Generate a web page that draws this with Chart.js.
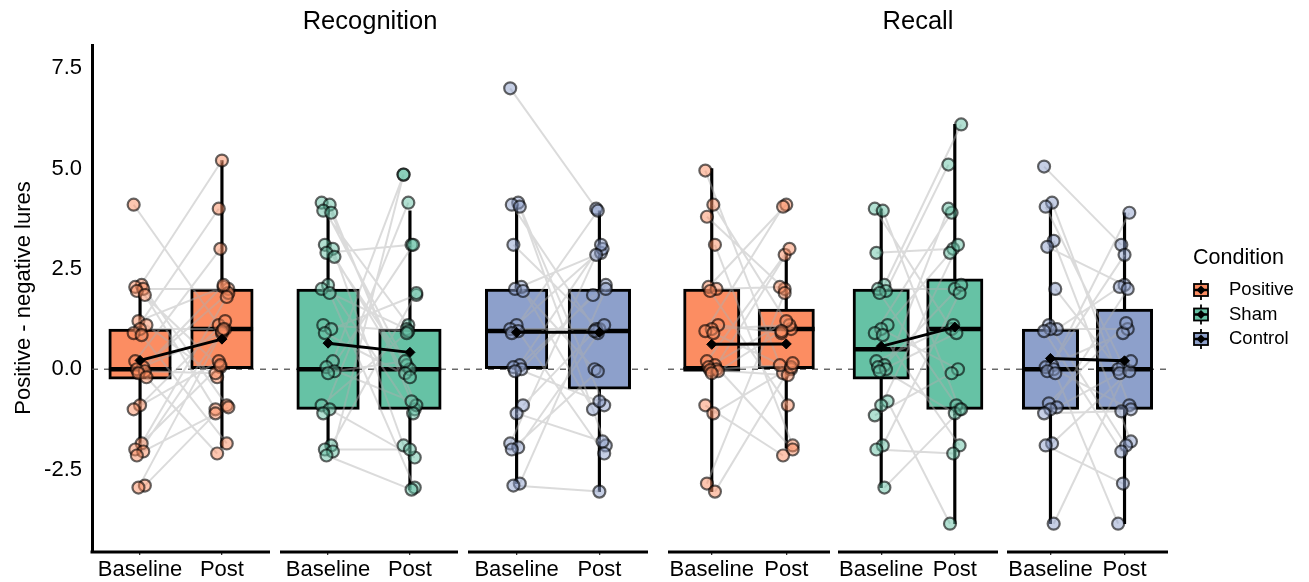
<!DOCTYPE html>
<html lang="en">
<head>
<meta charset="UTF-8" />
<title>Positive - negative lures</title>
<style>
  body { margin: 0; background: #fff; }
  #chartBox { width: 1309px; height: 582px; }
</style>
</head>
<body>
<div id="chartBox"><canvas id="boxChart" width="1309" height="582"></canvas></div>

<script src="https://cdn.jsdelivr.net/npm/chart.js@4/dist/chart.umd.min.js"></script>
<script>
// ---- values ----
const tasks = ['Recognition', 'Recall'];
const conditions = ['Positive', 'Sham', 'Control'];
const sessions = ['Baseline', 'Post'];
const yTicks = [-2.5, 0, 2.5, 5, 7.5];

// participant scores, base[i] is paired with post[i]
const recogPosBase = [4.1, 2.1, 2.05, 2.0, 1.95, 1.85, 1.2, 1.1, 1.0, 0.9, 0.85, 0.2, 0.05, 0.0, -0.05, -0.1, -0.2, -0.9, -1.0, -1.85, -2.0, -2.05, -2.15, -2.9, -2.95];
const recogPosPost = [1.1, -0.9, 0.05, 2.0, 5.2, -1.0, 2.05, -0.2, 1.0, 4.0, -1.85, 3.0, 1.9, 0.9, -0.1, 2.1, -2.1, 1.2, 0.2, 1.8, 0.1, -0.95, 0.95, -1.1, 1.0];
const recogShamBase = [4.15, 4.1, 3.95, 3.9, 3.1, 3.0, 2.9, 2.8, 2.1, 2.0, 1.9, 1.1, 1.0, 0.9, 0.2, 0.05, -0.05, -0.1, -0.9, -1.0, -1.1, -1.9, -2.0, -2.05, -2.15];
const recogShamPost = [0.1, -1.0, 1.1, -0.9, 0.0, -1.9, 3.1, -0.1, -1.1, 1.0, -2.95, 0.95, 1.85, -0.2, 4.85, -0.8, 0.2, 3.1, 0.9, -2.2, 4.15, 1.9, -2.0, 4.85, -3.0];
const recogCtrlBase = [7.0, 4.15, 4.1, 4.05, 3.1, 2.05, 2.0, 1.95, 1.1, 1.0, 0.95, 0.9, 0.1, 0.05, 0.0, -0.05, -0.9, -1.1, -1.85, -1.95, -2.0, -2.85, -2.9];
const recogCtrlPost = [4.0, -0.9, 0.9, -1.9, 1.0, -1.0, 2.9, 0.0, 3.0, 1.0, -2.1, 3.95, 2.1, -0.8, 1.85, 3.1, 0.95, -1.8, 2.85, 1.1, -0.05, 2.0, -3.05];
const recallPosBase = [4.95, 4.1, 3.8, 3.1, 2.05, 2.0, 1.95, 1.1, 1.0, 0.95, 0.9, 0.2, 0.1, 0.05, 0.0, -0.02, -0.05, -0.1, -0.9, -1.1, -2.85, -3.05];
const recallPosPost = [-0.1, 1.0, 2.0, -1.9, 4.1, 2.05, -0.9, 0.9, 1.1, 4.05, 0.0, 2.85, -2.0, 1.2, 0.1, -0.15, 0.95, 3.0, -2.15, 0.05, 1.9, 0.15];
const recallShamBase = [4.0, 3.95, 2.9, 2.1, 2.0, 1.95, 1.9, 1.1, 1.0, 0.9, 0.85, 0.2, 0.1, 0.05, 0.0, -0.05, -0.8, -0.9, -1.15, -1.9, -2.0, -2.95];
const recallShamPost = [1.0, -1.0, 3.0, 6.1, 2.0, 5.1, -0.9, 2.9, 0.0, 3.9, -1.9, 1.1, 2.1, -1.1, 4.0, 0.9, -3.85, 3.1, -0.1, 1.9, -2.1, -1.0];
const recallCtrlBase = [5.05, 4.15, 4.05, 3.2, 3.05, 2.0, 1.1, 1.0, 1.0, 0.95, 0.1, 0.05, 0.0, -0.05, -0.1, -0.85, -0.95, -1.0, -1.1, -1.85, -1.9, -3.85];
const recallCtrlPost = [3.1, -0.9, 0.1, -1.8, 2.1, 0.0, -1.9, 2.05, 1.0, -2.05, 3.9, 0.9, -1.0, 2.85, -3.85, 1.15, -0.1, 2.0, -1.05, -0.05, -2.85, 0.2];

// box summaries, panel order (Recognition P/S/C, Recall P/S/C), Baseline then Post
const boxLow    = [-2.0, -1.95, -2.0, -3.0, -2.85, -3.05, -3.05, -1.97, -2.95, -3.85, -3.85, -3.85];
const boxQ1     = [-0.25, 0, -1, -1, 0, -0.5, 0, 0, -0.25, -1, -1, -1];
const boxMedian = [0, 1, 0, 0, 0.95, 0.95, 0, 1, 0.5, 1, 0, 0];
const boxQ3     = [1, 2, 2, 1, 2, 2, 2, 1.5, 2, 2.25, 1, 1.5];
const boxHigh   = [2.1, 5.2, 4.05, 3.95, 4.1, 3.95, 5.0, 2.9, 4.0, 6.1, 4.05, 3.9];
const groupMean = [0.22, 0.75, 0.65, 0.42, 0.92, 0.92, 0.62, 0.63, 0.57, 1.05, 0.27, 0.21];

const groups = [
  { task: 0, cond: 'Positive', base: recogPosBase, post: recogPosPost },
  { task: 0, cond: 'Sham', base: recogShamBase, post: recogShamPost },
  { task: 0, cond: 'Control', base: recogCtrlBase, post: recogCtrlPost },
  { task: 1, cond: 'Positive', base: recallPosBase, post: recallPosPost },
  { task: 1, cond: 'Sham', base: recallShamBase, post: recallShamPost },
  { task: 1, cond: 'Control', base: recallCtrlBase, post: recallCtrlPost },
];

// ---- layout / style ----
const condColors = { Positive: '#FC8D62', Sham: '#66C2A5', Control: '#8DA0CB' };
const FONT = '"Liberation Sans", Arial, sans-serif';
// sub-panel extents along the x scale (1 unit = 1 px of plot width)
const panelStart = [0, 188, 376, 576, 746, 915];
const panelWidth = [178, 178, 180, 162, 160, 161];
const X_MAX = 1076;
const SESSION_POS = [0.27, 0.73];
const BOX_FRAC = 0.35;

Chart.defaults.font.family = FONT;

function xAt(g, s) { return panelStart[g] + panelWidth[g] * SESSION_POS[s]; }
function jitter(i) { return ((i * 5) % 9 - 4) * 1.6; }
function rgba(hex, a) {
  const n = parseInt(hex.slice(1), 16);
  return 'rgba(' + (n >> 16) + ',' + ((n >> 8) & 255) + ',' + (n & 255) + ',' + a + ')';
}

const whiskerData = [], medianData = [], meanData = [], pairData = [], tickPos = [];
const boxData = [[], []], boxColors = [[], []], boxWidth = [[], []];
groups.forEach((grp, g) => {
  [0, 1].forEach(s => {
    const k = g * 2 + s, x = xAt(g, s), hw = panelWidth[g] * BOX_FRAC / 2;
    tickPos.push(x);
    whiskerData.push({ x: x, y: [boxLow[k], boxHigh[k]] });
    boxData[grp.task].push({ x: x, y: [boxQ1[k], boxQ3[k]] });
    boxColors[grp.task].push(condColors[grp.cond]);
    boxWidth[grp.task].push(hw * 2);
    medianData.push({ x: x - hw, y: boxMedian[k] }, { x: x + hw, y: boxMedian[k] }, { x: x + hw, y: null });
    meanData.push({ x: x, y: groupMean[k] });
  });
  meanData.push({ x: xAt(g, 1), y: null });
  grp.base.forEach((b, i) => {
    pairData.push({ x: xAt(g, 0) + jitter(i), y: b },
                  { x: xAt(g, 1) + jitter(i + 4), y: grp.post[i] },
                  { x: xAt(g, 1), y: null });
  });
});
const avg = a => a.reduce((p, c) => p + c, 0) / a.length;

const pointSets = groups.map((grp, g) => ({
  type: 'scatter',
  data: grp.base.map((v, i) => ({ x: xAt(g, 0) + jitter(i), y: v }))
    .concat(grp.post.map((v, i) => ({ x: xAt(g, 1) + jitter(i + 4), y: v }))),
  backgroundColor: rgba(condColors[grp.cond], 0.5),
  borderColor: 'rgba(0,0,0,0.6)',
  borderWidth: 2.2,
  pointRadius: 6,
  pointHoverRadius: 6,
  order: 5
}));

const facets = [[panelStart[0], panelStart[2] + panelWidth[2]], [panelStart[3], panelStart[5] + panelWidth[5]]];

const decorations = {
  id: 'decorations',
  beforeDatasetsDraw(chart) {
    const { ctx, scales: { x, y } } = chart;
    const y0 = y.getPixelForValue(0);
    ctx.save();
    ctx.strokeStyle = '#555';
    ctx.lineWidth = 1.3;
    ctx.setLineDash([6, 6]);
    facets.forEach(f => {
      ctx.beginPath();
      ctx.moveTo(x.getPixelForValue(f[0]), y0);
      ctx.lineTo(x.getPixelForValue(f[1]), y0);
      ctx.stroke();
    });
    ctx.restore();
  },
  afterDatasetsDraw(chart) {
    const { ctx, chartArea, scales: { x } } = chart;
    ctx.save();
    ctx.strokeStyle = '#000';
    ctx.lineWidth = 3;
    panelStart.forEach((p, g) => {
      const a = x.getPixelForValue(p) - (g === 0 ? 1.5 : 0);
      ctx.beginPath();
      ctx.moveTo(a, chartArea.bottom + 1);
      ctx.lineTo(x.getPixelForValue(p + panelWidth[g]), chartArea.bottom + 1);
      ctx.stroke();
    });
    ctx.restore();
  },
  afterDraw(chart) {
    const { ctx, chartArea, scales: { x } } = chart;
    ctx.save();
    ctx.fillStyle = '#000';
    ctx.textBaseline = 'middle';
    // facet strips
    ctx.textAlign = 'center';
    ctx.font = '25.5px ' + FONT;
    facets.forEach((f, t) => {
      ctx.fillText(tasks[t], x.getPixelForValue((f[0] + f[1]) / 2), 22);
    });
    // legend
    const mid = (chartArea.top + chartArea.bottom) / 2;
    const lx = chartArea.right + 25;
    ctx.textAlign = 'left';
    ctx.font = '21.5px ' + FONT;
    ctx.fillText('Condition', lx, mid - 40);
    conditions.forEach((c, i) => {
      const cy = mid - 8 + i * 24.5, cx = lx + 8;
      ctx.strokeStyle = '#000';
      ctx.lineWidth = 1.8;
      ctx.beginPath(); ctx.moveTo(cx, cy - 10); ctx.lineTo(cx, cy + 10); ctx.stroke();
      ctx.fillStyle = condColors[c];
      ctx.fillRect(cx - 7, cy - 6, 14, 12);
      ctx.strokeRect(cx - 7, cy - 6, 14, 12);
      ctx.lineWidth = 2.5;
      ctx.beginPath(); ctx.moveTo(cx - 7, cy); ctx.lineTo(cx + 7, cy); ctx.stroke();
      ctx.fillStyle = '#000';
      ctx.beginPath();
      ctx.moveTo(cx, cy - 4.5); ctx.lineTo(cx + 4.5, cy); ctx.lineTo(cx, cy + 4.5); ctx.lineTo(cx - 4.5, cy);
      ctx.closePath(); ctx.fill();
      ctx.font = '18.5px ' + FONT;
      ctx.fillText(c, lx + 36, cy);
    });
    ctx.restore();
  }
};

new Chart(document.getElementById('boxChart'), {
  type: 'bar',
  data: {
    datasets: [
      { type: 'bar', data: whiskerData, backgroundColor: '#000', barThickness: 2.5, grouped: false, order: 10 },
      { type: 'bar', data: boxData[0], backgroundColor: boxColors[0], borderColor: '#000', borderWidth: 3,
        borderSkipped: false, barThickness: avg(boxWidth[0]), grouped: false, order: 9 },
      { type: 'bar', data: boxData[1], backgroundColor: boxColors[1], borderColor: '#000', borderWidth: 3,
        borderSkipped: false, barThickness: avg(boxWidth[1]), grouped: false, order: 9 },
      { type: 'line', data: medianData, borderColor: '#000', borderWidth: 4.5, pointRadius: 0,
        spanGaps: false, tension: 0, order: 8 },
      { type: 'line', data: pairData, borderColor: 'rgba(175,175,175,0.45)', borderWidth: 2, pointRadius: 0,
        spanGaps: false, tension: 0, order: 7 },
      ...pointSets,
      { type: 'line', data: meanData, borderColor: '#000', backgroundColor: '#000', borderWidth: 3,
        pointStyle: 'rectRot', pointRadius: 5, pointBorderWidth: 1, spanGaps: false, tension: 0, order: 1 }
    ]
  },
  options: {
    responsive: false,
    animation: false,
    events: [],
    layout: { padding: { top: 45, right: 141, bottom: 0, left: 0 } },
    plugins: { legend: { display: false }, tooltip: { enabled: false } },
    scales: {
      x: {
        type: 'linear',
        min: 0,
        max: X_MAX,
        offset: false,
        grid: { offset: false, drawOnChartArea: false, drawTicks: true, tickLength: 4, color: '#333', lineWidth: 1.3 },
        border: { display: false },
        afterBuildTicks: s => { s.ticks = tickPos.map(v => ({ value: v })); },
        afterFit: s => { s.height = 31; },
        ticks: {
          autoSkip: false,
          maxRotation: 0,
          minRotation: 0,
          padding: 2,
          color: '#000',
          font: { size: 22 },
          callback: (v, i) => sessions[i % 2]
        }
      },
      y: {
        min: -4.53,
        max: 8.08,
        grid: { display: true, drawOnChartArea: false, drawTicks: false },
        border: { display: true, color: '#000', width: 3 },
        afterBuildTicks: s => { s.ticks = yTicks.map(v => ({ value: v })); },
        afterFit: s => { s.width = 92; },
        ticks: {
          padding: 10,
          color: '#000',
          font: { size: 22 },
          callback: v => v.toFixed(1)
        },
        title: {
          display: true,
          text: 'Positive - negative lures',
          color: '#000',
          font: { size: 22 },
          padding: { top: 11, bottom: 0 }
        }
      }
    }
  },
  plugins: [decorations]
});
</script>
</body>
</html>
